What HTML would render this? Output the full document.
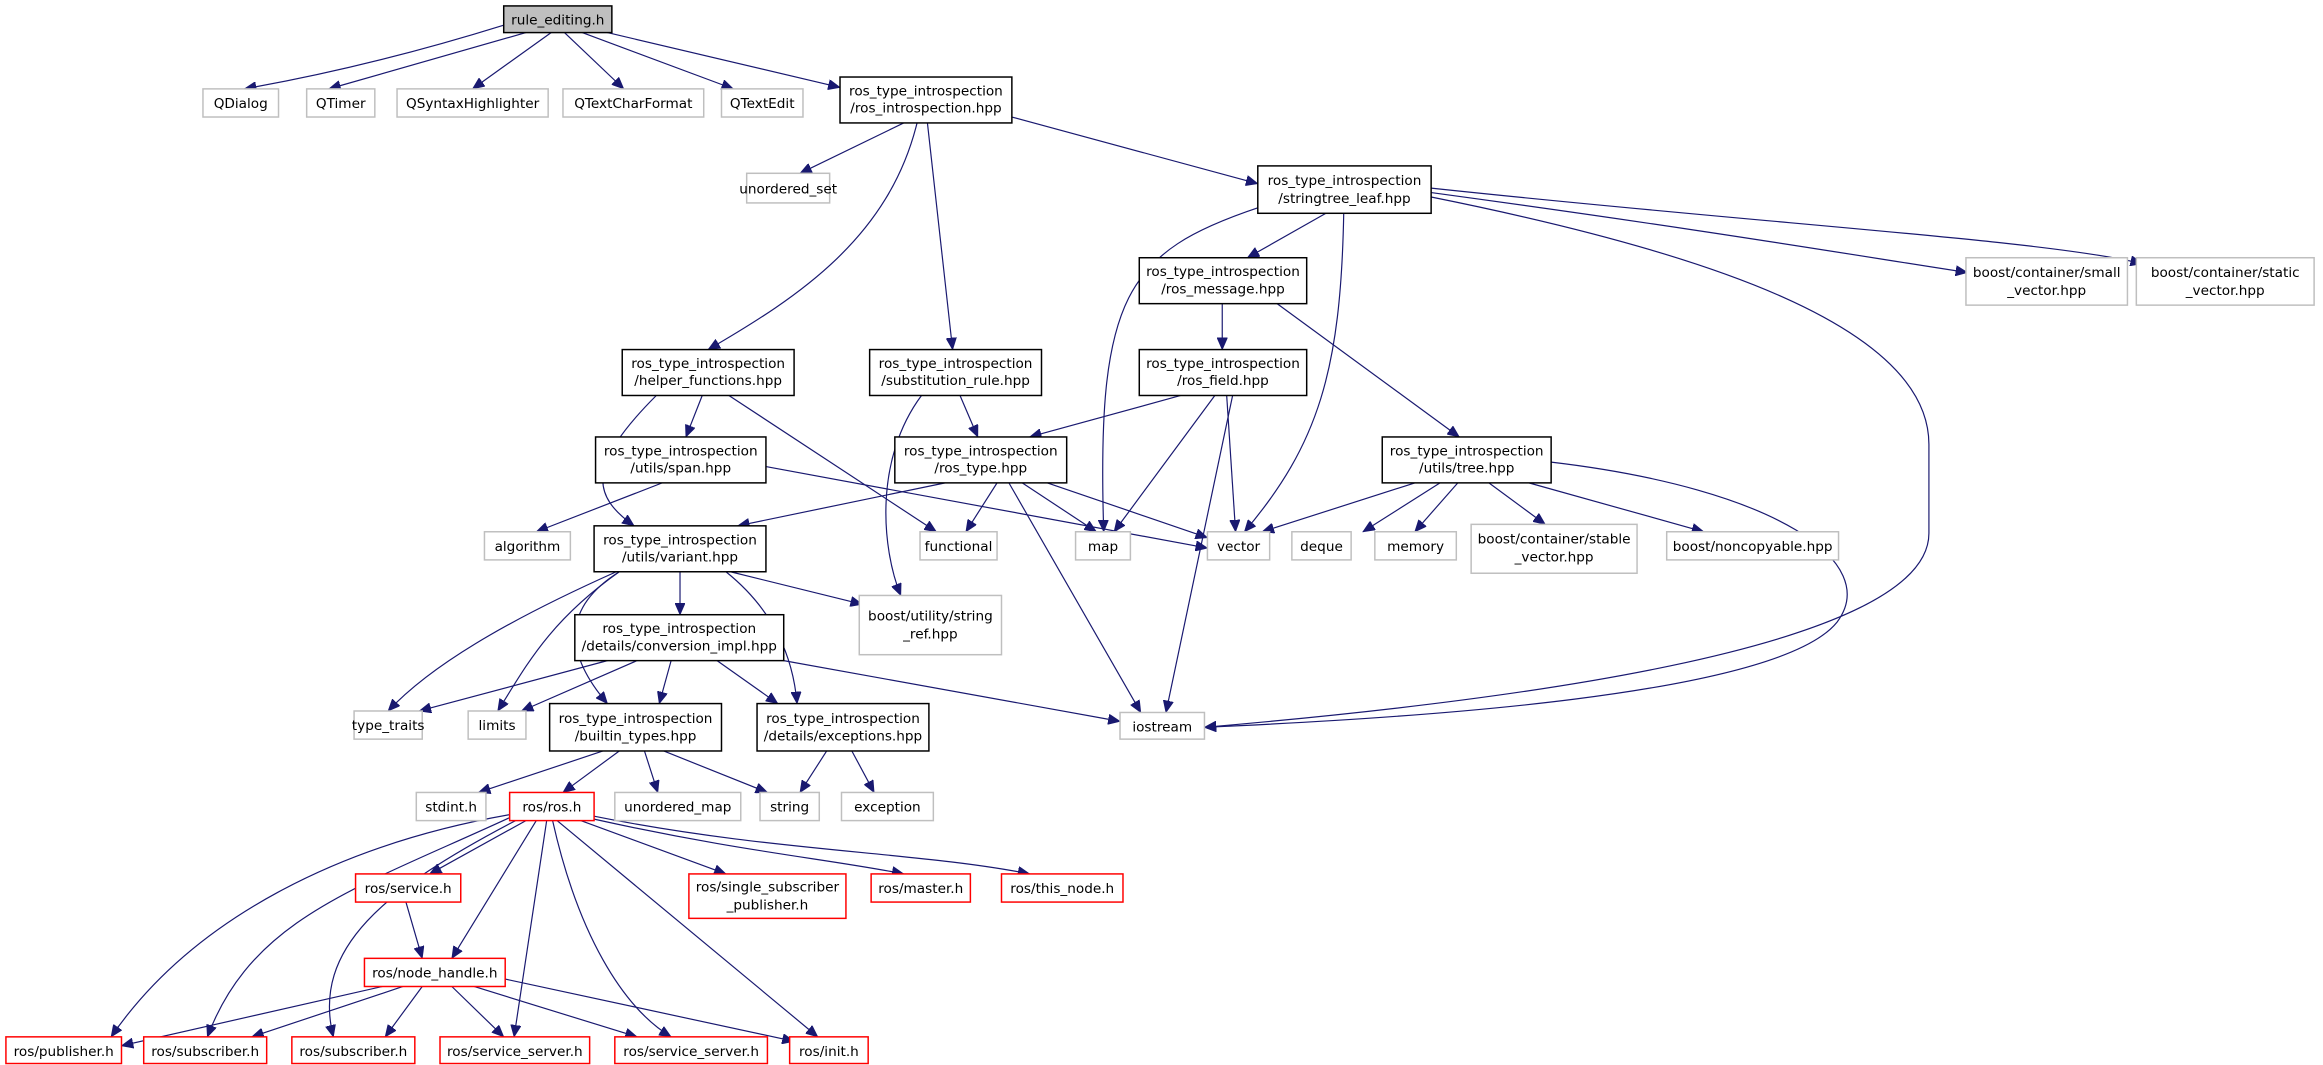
<!DOCTYPE html>
<html><head><meta charset="utf-8"><style>
html,body{margin:0;padding:0;background:#fff;}
svg{display:block;}
text{font-family:"DejaVu Sans","Liberation Sans",sans-serif;font-size:9.2px;fill:#000;text-anchor:middle;}
.d{fill:#fff;stroke:#000;stroke-width:1;}
.g{fill:#fff;stroke:#bfbfbf;stroke-width:1;}
.r{fill:#fff;stroke:#ff0000;stroke-width:1;}
.e{fill:none;stroke:#191970;stroke-width:0.8;marker-end:url(#a);}
</style></head><body>
<svg width="2323" height="1065" viewBox="0 0 1568 719" preserveAspectRatio="none" xmlns="http://www.w3.org/2000/svg">
<defs><marker id="a" markerUnits="userSpaceOnUse" markerWidth="9" markerHeight="7" refX="8" refY="3.5" orient="auto"><path d="M0,0 L8,3.5 L0,7 Z" fill="#191970" stroke="#191970" stroke-width="0.5"/></marker></defs>
<g>
<path class="e" d="M340,17 Q250,45 165,60"/>
<path class="e" d="M355,22 L222,60"/>
<path class="e" d="M372,22 L319,60"/>
<path class="e" d="M381,22 L421,60"/>
<path class="e" d="M393,22 L495,60"/>
<path class="e" d="M410,22 L567,59"/>
<path class="e" d="M610,83 L540,117"/>
<path class="e" d="M619,83 C600,160 540,200 478,236"/>
<path class="e" d="M626,83 L643,236"/>
<path class="e" d="M683,79 L849,124"/>
<path class="e" d="M850,140 C760,170 740,200 745,359"/>
<path class="e" d="M895,144 L842,174"/>
<path class="e" d="M907,144 C905,250 890,300 840,359"/>
<path class="e" d="M966,133 C1150,170 1302,220 1302,300 L1302,360 C1302,440 1000,475 813,491"/>
<path class="e" d="M966,130 C1150,155 1250,172 1328,184"/>
<path class="e" d="M966,127 C1200,152 1380,162 1446,178"/>
<path class="e" d="M825,205 L825,236"/>
<path class="e" d="M862,205 L985,295"/>
<path class="e" d="M797,267 L695,295"/>
<path class="e" d="M820,267 L752,359"/>
<path class="e" d="M828,267 L834,359"/>
<path class="e" d="M832,267 L787,481"/>
<path class="e" d="M474,267 L463,295"/>
<path class="e" d="M443,267 C395,315 400,335 428,355"/>
<path class="e" d="M492,267 L632,359"/>
<path class="e" d="M648,267 L660,295"/>
<path class="e" d="M622,267 C590,310 595,370 608,402"/>
<path class="e" d="M447,326 L362,359"/>
<path class="e" d="M517,315 L815,370"/>
<path class="e" d="M638,326 L498,355"/>
<path class="e" d="M673,326 L652,359"/>
<path class="e" d="M690,326 L740,359"/>
<path class="e" d="M707,326 L815,363"/>
<path class="e" d="M681,326 L770,481"/>
<path class="e" d="M955,326 L852,359"/>
<path class="e" d="M972,326 L920,359"/>
<path class="e" d="M984,326 L955,359"/>
<path class="e" d="M1005,326 L1043,354"/>
<path class="e" d="M1032,326 L1150,359"/>
<path class="e" d="M1047,312 C1200,330 1270,380 1240,420 C1200,470 950,485 813,491"/>
<path class="e" d="M416,386 C340,420 290,450 262,480"/>
<path class="e" d="M418,386 C370,420 355,450 336,480"/>
<path class="e" d="M418,386 C380,410 380,440 410,475"/>
<path class="e" d="M459,386 L459,415"/>
<path class="e" d="M490,386 C520,410 535,440 538,475"/>
<path class="e" d="M493,386 L582,408"/>
<path class="e" d="M410,446 L283,480"/>
<path class="e" d="M430,446 L352,480"/>
<path class="e" d="M453,446 L445,475"/>
<path class="e" d="M484,446 L525,475"/>
<path class="e" d="M529,446 L756,487"/>
<path class="e" d="M407,507 L323,535"/>
<path class="e" d="M418,507 L380,535"/>
<path class="e" d="M435,507 L444,535"/>
<path class="e" d="M448,507 L518,535"/>
<path class="e" d="M558,507 L540,535"/>
<path class="e" d="M575,507 L590,535"/>
<path class="e" d="M344,550 C230,570 130,620 75,700"/>
<path class="e" d="M344,552 C240,600 170,620 140,700"/>
<path class="e" d="M348,554 C260,600 210,640 225,700"/>
<path class="e" d="M355,554 L290,590"/>
<path class="e" d="M362,554 L305,647"/>
<path class="e" d="M369,554 L347,700"/>
<path class="e" d="M373,554 C390,630 420,680 453,700"/>
<path class="e" d="M376,554 L552,700"/>
<path class="e" d="M392,554 L490,590"/>
<path class="e" d="M401,553 C500,575 560,580 610,590"/>
<path class="e" d="M401,551 C520,575 620,575 695,590"/>
<path class="e" d="M274,609 L285,647"/>
<path class="e" d="M258,666 L82,706"/>
<path class="e" d="M272,666 L170,700"/>
<path class="e" d="M285,666 L260,700"/>
<path class="e" d="M305,666 L340,700"/>
<path class="e" d="M320,666 L430,700"/>
<path class="e" d="M341,661 L536,703"/>
</g>
<g>
<rect x="340" y="4" width="73" height="18" fill="#bfbfbf" stroke="#000"/><text x="376.5" y="16.5">rule_editing.h</text>
<rect class="g" x="137" y="60" width="51" height="19"/><text x="162.5" y="73">QDialog</text>
<rect class="g" x="207" y="60" width="46" height="19"/><text x="230" y="73">QTimer</text>
<rect class="g" x="268" y="60" width="102" height="19"/><text x="319" y="73">QSyntaxHighlighter</text>
<rect class="g" x="380" y="60" width="95" height="19"/><text x="427.5" y="73">QTextCharFormat</text>
<rect class="g" x="487" y="60" width="55" height="19"/><text x="514.5" y="73">QTextEdit</text>
<rect class="d" x="567" y="52" width="116" height="31"/><text x="625" y="64.5">ros_type_introspection</text><text x="625" y="76">/ros_introspection.hpp</text>
<rect class="g" x="504" y="117" width="56" height="20"/><text x="532" y="130.5">unordered_set</text>
<rect class="d" x="849" y="112" width="117" height="32"/><text x="907.5" y="125">ros_type_introspection</text><text x="907.5" y="137">/stringtree_leaf.hpp</text>
<rect class="d" x="769" y="174" width="113" height="31"/><text x="825.5" y="186.5">ros_type_introspection</text><text x="825.5" y="198">/ros_message.hpp</text>
<rect class="g" x="1327" y="174" width="109" height="32"/><text x="1381.5" y="187">boost/container/small</text><text x="1381.5" y="199">_vector.hpp</text>
<rect class="g" x="1442" y="174" width="120" height="32"/><text x="1502" y="187">boost/container/static</text><text x="1502" y="199">_vector.hpp</text>
<rect class="d" x="420" y="236" width="116" height="31"/><text x="478" y="248.5">ros_type_introspection</text><text x="478" y="260">/helper_functions.hpp</text>
<rect class="d" x="587" y="236" width="116" height="31"/><text x="645" y="248.5">ros_type_introspection</text><text x="645" y="260">/substitution_rule.hpp</text>
<rect class="d" x="769" y="236" width="113" height="31"/><text x="825.5" y="248.5">ros_type_introspection</text><text x="825.5" y="260">/ros_field.hpp</text>
<rect class="d" x="402" y="295" width="115" height="31"/><text x="459.5" y="307.5">ros_type_introspection</text><text x="459.5" y="319">/utils/span.hpp</text>
<rect class="d" x="604" y="295" width="116" height="31"/><text x="662" y="307.5">ros_type_introspection</text><text x="662" y="319">/ros_type.hpp</text>
<rect class="d" x="933" y="295" width="114" height="31"/><text x="990" y="307.5">ros_type_introspection</text><text x="990" y="319">/utils/tree.hpp</text>
<rect class="g" x="327" y="359" width="58" height="19"/><text x="356" y="372">algorithm</text>
<rect class="d" x="401" y="355" width="116" height="31"/><text x="459" y="367.5">ros_type_introspection</text><text x="459" y="379">/utils/variant.hpp</text>
<rect class="g" x="621" y="359" width="52" height="19"/><text x="647" y="372">functional</text>
<rect class="g" x="726" y="359" width="37" height="19"/><text x="744.5" y="372">map</text>
<rect class="g" x="815" y="359" width="42" height="19"/><text x="836" y="372">vector</text>
<rect class="g" x="872" y="359" width="40" height="19"/><text x="892" y="372">deque</text>
<rect class="g" x="928" y="359" width="55" height="19"/><text x="955.5" y="372">memory</text>
<rect class="g" x="993" y="354" width="112" height="33"/><text x="1049" y="367">boost/container/stable</text><text x="1049" y="379">_vector.hpp</text>
<rect class="g" x="1125" y="359" width="116" height="19"/><text x="1183" y="372">boost/noncopyable.hpp</text>
<rect class="g" x="580" y="402" width="96" height="40"/><text x="628" y="419">boost/utility/string</text><text x="628" y="431">_ref.hpp</text>
<rect class="d" x="388" y="415" width="141" height="31"/><text x="458.5" y="427.5">ros_type_introspection</text><text x="458.5" y="439">/details/conversion_impl.hpp</text>
<rect class="g" x="239" y="480" width="46" height="19"/><text x="262" y="493">type_traits</text>
<rect class="g" x="316" y="480" width="39" height="19"/><text x="335.5" y="493">limits</text>
<rect class="d" x="371" y="475" width="116" height="32"/><text x="429" y="488">ros_type_introspection</text><text x="429" y="500">/builtin_types.hpp</text>
<rect class="d" x="511" y="475" width="116" height="32"/><text x="569" y="488">ros_type_introspection</text><text x="569" y="500">/details/exceptions.hpp</text>
<rect class="g" x="756" y="481" width="57" height="18"/><text x="784.5" y="494">iostream</text>
<rect class="g" x="281" y="535" width="47" height="19"/><text x="304.5" y="548">stdint.h</text>
<rect class="r" x="344" y="535" width="57" height="19"/><text x="372.5" y="548">ros/ros.h</text>
<rect class="g" x="415" y="535" width="85" height="19"/><text x="457.5" y="548">unordered_map</text>
<rect class="g" x="513" y="535" width="40" height="19"/><text x="533" y="548">string</text>
<rect class="g" x="568" y="535" width="62" height="19"/><text x="599" y="548">exception</text>
<rect class="r" x="240" y="590" width="71" height="19"/><text x="275.5" y="603">ros/service.h</text>
<rect class="r" x="465" y="590" width="106" height="30"/><text x="518" y="602">ros/single_subscriber</text><text x="518" y="614">_publisher.h</text>
<rect class="r" x="588" y="590" width="67" height="19"/><text x="621.5" y="603">ros/master.h</text>
<rect class="r" x="676" y="590" width="82" height="19"/><text x="717" y="603">ros/this_node.h</text>
<rect class="r" x="246" y="647" width="95" height="19"/><text x="293.5" y="660">ros/node_handle.h</text>
<rect class="r" x="4" y="700" width="78" height="18"/><text x="43" y="713">ros/publisher.h</text>
<rect class="r" x="97" y="700" width="83" height="18"/><text x="138.5" y="713">ros/subscriber.h</text>
<rect class="r" x="197" y="700" width="83" height="18"/><text x="238.5" y="713">ros/subscriber.h</text>
<rect class="r" x="297" y="700" width="101" height="18"/><text x="347.5" y="713">ros/service_server.h</text>
<rect class="r" x="415" y="700" width="103" height="18"/><text x="466.5" y="713">ros/service_server.h</text>
<rect class="r" x="533" y="700" width="53" height="18"/><text x="559.5" y="713">ros/init.h</text>
</g>
</svg>
</body></html>
